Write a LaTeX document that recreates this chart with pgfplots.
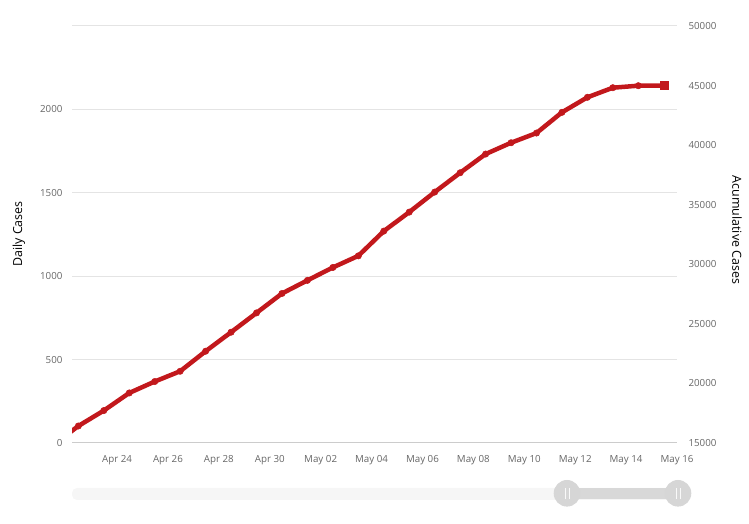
\documentclass[border=0pt]{standalone}
\usepackage{pgfplots}
\pgfplotsset{compat=1.18}
\usepackage{fontspec}
\setmainfont{Open Sans}
\definecolor{linered}{RGB}{194,24,28}
\definecolor{gridgray}{RGB}{228,228,228}
\definecolor{ticktext}{RGB}{102,102,102}
\definecolor{axisgray}{RGB}{204,204,204}
\definecolor{tracklight}{RGB}{246,246,246}
\definecolor{trackdark}{RGB}{216,216,216}
\definecolor{handle}{RGB}{214,214,214}
\pgfplotstableread{
x y
-1 14800
0 16428
1 17722
2 19200
3 20158
4 21023
5 22703
6 24299
7 25920
8 27550
9 28650
10 29734
11 30708
12 32783
13 34379
14 36059
15 37680
16 39251
17 40200
18 41015
19 42754
20 44014
21 44820
22 44988
23 44990
}\cum
\begin{document}
\begin{tikzpicture}[x=1bp,y=1bp]
\path[use as bounding box] (0,0) rectangle (749,524);
% navigator (decorative)
\fill[tracklight, rounded corners=5bp] (72,24) rectangle (690,36);
\fill[trackdark] (567,25) rectangle (678,36);
\fill[handle] (567,30.7) circle (13.3);
\fill[handle] (678,30.7) circle (13.3);
\foreach \cx in {567,678}{
  \draw[white!85!handle, line width=1bp] (\cx-2,25) -- (\cx-2,36);
  \draw[white!85!handle, line width=1bp] (\cx+2,25) -- (\cx+2,36);
}
\begin{axis}[
  at={(72bp,81bp)}, anchor=south west,
  scale only axis, width=605bp, height=417bp,
  xmin=-0.25, xmax=23.52, ymin=0, ymax=2500,
  axis x line*=bottom, axis y line*=left,
  y axis line style={draw=none},
  x axis line style={draw=axisgray, line width=1bp, -},
  ytick={0,500,1000,1500,2000,2500},
  yticklabels={0,500,1000,1500,2000,{}},
  xtick={1.52,3.52,5.52,7.52,9.52,11.52,13.52,15.52,17.52,19.52,21.52,23.52},
  xticklabels={Apr 24,Apr 26,Apr 28,Apr 30,May 02,May 04,May 06,May 08,May 10,May 12,May 14,May 16},
  ymajorgrids,
  grid style={draw=gridgray, line width=1bp},
  major tick length=0pt,
  tick label style={font=\fontsize{9.8}{11}\selectfont, text=ticktext},
  yticklabel style={xshift=-6bp},
  xticklabel style={yshift=-9bp},
]
\end{axis}
\begin{axis}[
  at={(72bp,81bp)}, anchor=south west,
  scale only axis, width=605bp, height=417bp,
  xmin=-0.25, xmax=23.52, ymin=15000, ymax=50000,
  axis x line=none, axis y line*=right,
  y axis line style={draw=none},
  scaled y ticks=false,
  ytick={15000,20000,25000,30000,35000,40000,45000,50000},
  yticklabels={15000,20000,25000,30000,35000,40000,45000,50000},
  major tick length=0pt,
  tick label style={font=\fontsize{9.8}{11}\selectfont, text=ticktext},
  yticklabel style={xshift=8bp},
]
\addplot[color=linered, line width=4.5bp, mark=*, mark size=3.2bp,
  mark options={fill=linered, draw=linered, line width=0.5bp}] table[x=x,y=y] {\cum};
\addplot[color=linered, only marks, mark=square*, mark size=4bp] coordinates {(23,44990)};
\end{axis}
\node[rotate=90, font=\fontsize{12.5}{14}\selectfont] at (19,290) {Daily Cases};
\node[rotate=-90, font=\fontsize{12.5}{14}\selectfont] at (737,294) {Acumulative Cases};
\end{tikzpicture}
\end{document}
